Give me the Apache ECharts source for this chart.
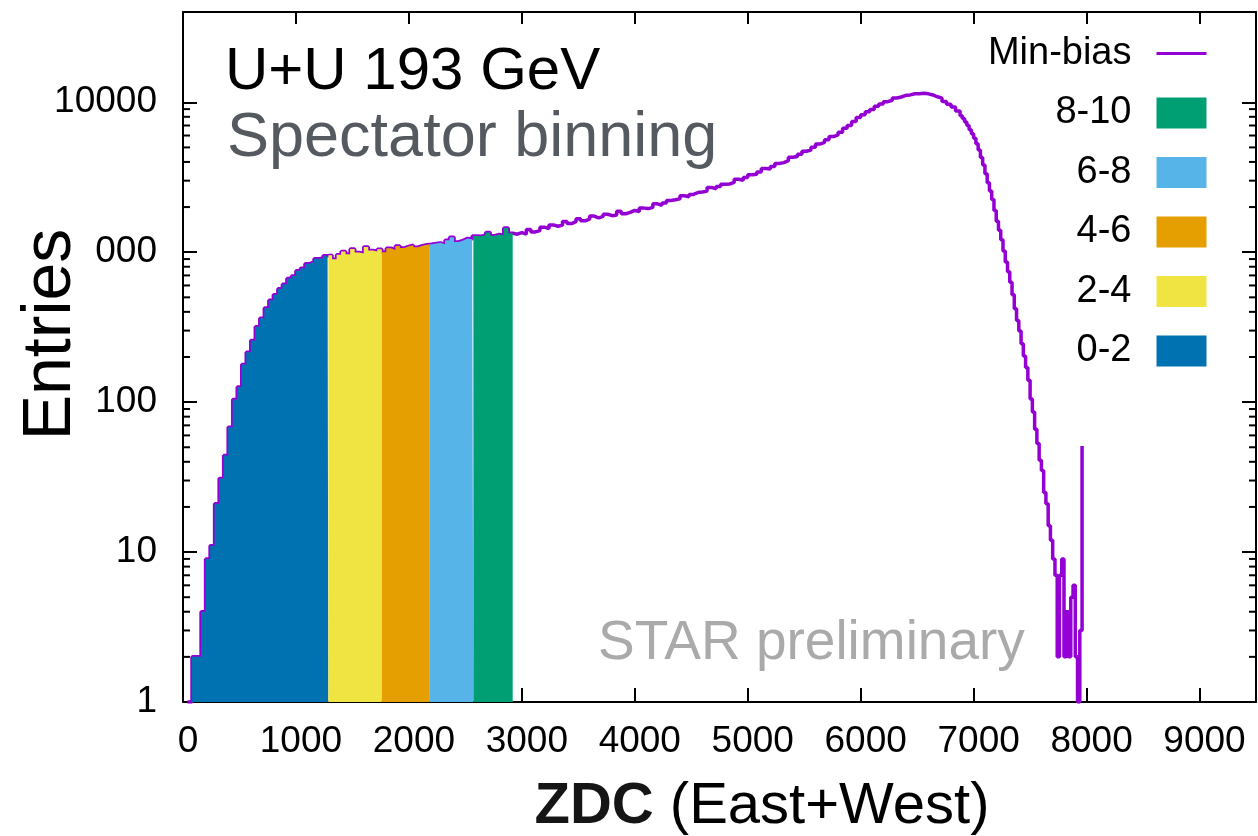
<!DOCTYPE html>
<html>
<head>
<meta charset="utf-8">
<title>ZDC spectator binning</title>
<script src="https://cdn.jsdelivr.net/npm/echarts@6/dist/echarts.min.js"></script>
<style>
  html, body { margin: 0; padding: 0; background: #ffffff; }
  #chart { width: 1258px; height: 836px; }
</style>
</head>
<body>
<div id="chart"></div>
<script>
// ZDC (East+West) histogram: left bin edge of each bin
const zdc = [
  40, 80, 120, 160, 200, 240, 280, 320, 360, 400,
  440, 480, 520, 560, 600, 640, 680, 720, 760, 800,
  840, 880, 920, 960, 1000, 1040, 1080, 1120, 1160, 1200,
  1240, 1280, 1320, 1360, 1400, 1440, 1480, 1520, 1560, 1600,
  1640, 1680, 1720, 1760, 1800, 1840, 1880, 1920, 1960, 2000,
  2040, 2080, 2120, 2160, 2200, 2240, 2280, 2320, 2360, 2400,
  2440, 2480, 2520, 2560, 2600, 2640, 2680, 2720, 2760, 2800,
  2840, 2880, 2920, 2960, 3000, 3040, 3080, 3120, 3160, 3200,
  3240, 3280, 3320, 3360, 3400, 3440, 3480, 3520, 3560, 3600,
  3640, 3680, 3720, 3760, 3800, 3840, 3880, 3920, 3960, 4000,
  4040, 4080, 4120, 4160, 4200, 4240, 4280, 4320, 4360, 4400,
  4440, 4480, 4520, 4560, 4600, 4640, 4680, 4720, 4760, 4800,
  4840, 4880, 4920, 4960, 5000, 5040, 5080, 5120, 5160, 5200,
  5240, 5280, 5320, 5360, 5400, 5440, 5480, 5520, 5560, 5600,
  5640, 5680, 5720, 5760, 5800, 5840, 5880, 5920, 5960, 6000,
  6040, 6080, 6120, 6160, 6200, 6240, 6280, 6320, 6360, 6400,
  6440, 6480, 6520, 6560, 6600, 6640, 6680, 6720, 6760, 6800,
  6840, 6880, 6900, 6920, 6940, 6960, 6980, 7000, 7020, 7040,
  7060, 7080, 7100, 7120, 7140, 7160, 7180, 7200, 7220, 7240,
  7260, 7280, 7300, 7320, 7340, 7360, 7380, 7400, 7420, 7440,
  7460, 7480,
  7500, 7520, 7540, 7560, 7580, 7600, 7620, 7640, 7660, 7680,
  7700, 7720, 7740, 7760, 7780, 7800, 7820, 7840, 7860, 7880,
  7900, 7920, 7940, 7960
];

// Min-bias entries per bin
const entries = [
  1, 2, 2, 4, 9, 11, 21, 31, 44, 68,
  104, 126, 178, 215, 258, 318, 362, 425, 478, 520,
  571, 612, 668, 694, 752, 781, 836, 862, 905, 912,
  948, 955, 898, 962, 1012, 968, 1052, 996, 981, 1082,
  1028, 1011, 1046, 998, 1063, 1036, 1102, 1068, 1094, 1113,
  1079, 1104, 1122, 1131, 1142, 1154, 1128, 1203, 1258, 1171,
  1199, 1236, 1218, 1281, 1276, 1302, 1351, 1288, 1314, 1297,
  1452, 1336, 1318, 1352, 1318, 1415, 1366, 1392, 1468, 1436,
  1521, 1489, 1515, 1604, 1552, 1597, 1672, 1618, 1660, 1741,
  1692, 1733, 1790, 1752, 1771, 1874, 1806, 1842, 1898, 1870,
  1968, 1954, 1992, 2101, 2058, 2132, 2214, 2236, 2268, 2379,
  2341, 2427, 2502, 2520, 2558, 2704, 2650, 2742, 2842, 2851,
  2920, 3069, 3021, 3148, 3289, 3312, 3431, 3610, 3589, 3730,
  3902, 3958, 4080, 4296, 4352, 4495, 4712, 4808, 5010, 5262,
  5398, 5630, 5905, 6052, 6301, 6712, 7005, 7450, 7912, 8260,
  8640, 8950, 9410, 9740, 10090, 10320, 10680, 10840, 11120, 11200,
  11390, 11410, 11500, 11380, 11190, 10880, 10650, 10130, 9710, 9310,
  8760, 8120, 7790, 7400, 6990, 6550, 6170, 5760, 5290, 4800,
  4290, 3810, 3340, 2900, 2560, 2250, 1900, 1610, 1400, 1210,
  1020, 860, 740, 630, 520, 420, 350, 298, 245, 203,
  170, 140,
  105, 86, 66, 53, 41, 35, 25, 21, 15, 12,
  9, 7, 2, 7, 9, 2, 4, 2, 5, 6,
  2, 1, 3, 51
];

// Spectator classes and their ZDC ranges
const classNames = ['0-2', '2-4', '4-6', '6-8', '8-10'];
const classEdges = [40, 1287, 1760, 2180, 2571, 2919];
const classColors = ['#0072b2', '#f0e442', '#e69f00', '#56b4e9', '#009e73'];

// Log-axis minor tick values
const yMinorTicks = [
  2, 3, 4, 5, 6, 7, 8, 9,
  20, 30, 40, 50, 60, 70, 80, 90,
  200, 300, 400, 500, 600, 700, 800, 900,
  2000, 3000, 4000, 5000, 6000, 7000, 8000, 9000
];

const FONT = '"Liberation Sans", Arial, Helvetica, sans-serif';
const INK = '#000000';
const PURPLE = '#9400d3';
const X_MIN = 0;
const X_MAX = 9500;

function binValueAt(x) {
  let v = entries[0];
  for (let i = 0; i < zdc.length; i++) {
    if (zdc[i] <= x) v = entries[i]; else break;
  }
  return v;
}

// Portion of the histogram between lo and hi, as step points
function classData(lo, hi) {
  const pts = [[lo, binValueAt(lo)]];
  zdc.forEach((x, i) => { if (x > lo && x < hi) pts.push([x, entries[i]]); });
  pts.push([hi, binValueAt(hi - 1e-6)]);
  return pts;
}

const minBiasData = zdc.map((x, i) => [x, entries[i]]);

const frameLine = { color: INK, width: 2 };
const tickLine = { color: INK, width: 2 };

const classSeries = classNames.map((name, k) => ({
  name: name,
  type: 'line',
  step: 'end',
  symbol: 'none',
  data: classData(classEdges[k], classEdges[k + 1]),
  xAxisIndex: 0,
  yAxisIndex: 0,
  color: classColors[k],
  itemStyle: { color: classColors[k] },
  lineStyle: { width: 0, opacity: 0 },
  areaStyle: { color: classColors[k], opacity: 1, origin: 'start' },
  z: 3,
  silent: true
}));

const logAxisBase = {
  type: 'log',
  logBase: 10,
  min: 1,
  max: 40000,
  splitLine: { show: false },
  minorTick: { show: false }
};

const chart = echarts.init(document.getElementById('chart'), null, { renderer: 'canvas' });

chart.setOption({
  animation: false,
  backgroundColor: '#ffffff',
  grid: { left: 183, right: 2, top: 12, bottom: 134, containLabel: false, outerBoundsMode: 'none' },
  legend: {
    orient: 'vertical',
    align: 'right',
    right: 50,
    top: 34.5,
    padding: 0,
    itemWidth: 50,
    itemHeight: 31,
    itemGap: 21.5,
    selectedMode: false,
    textStyle: {
      fontFamily: FONT,
      fontSize: 38,
      lineHeight: 38,
      color: INK,
      padding: [0, 20, 0, 0]
    },
    data: [
      {
        name: 'Min-bias',
        itemStyle: { opacity: 0, color: 'rgba(0,0,0,0)', borderColor: 'rgba(0,0,0,0)', borderWidth: 0 },
        lineStyle: { color: PURPLE, width: 3 }
      },
      { name: '8-10', icon: 'rect' },
      { name: '6-8', icon: 'rect' },
      { name: '4-6', icon: 'rect' },
      { name: '2-4', icon: 'rect' },
      { name: '0-2', icon: 'rect' }
    ]
  },
  xAxis: [
    {
      type: 'value',
      position: 'bottom',
      min: X_MIN,
      max: X_MAX,
      interval: 1000,
      name: '{z|ZDC} (East+West)',
      nameLocation: 'middle',
      nameGap: 76,
      nameTextStyle: {
        fontFamily: FONT,
        fontSize: 58,
        lineHeight: 58,
        color: INK,
        padding: [0, 0, 0, 85],
        rich: {
          z: { fontFamily: FONT, fontSize: 58, lineHeight: 58, fontWeight: 'bold', color: '#151515' }
        }
      },
      axisLine: { show: true, onZero: false, lineStyle: frameLine },
      axisTick: { show: true, inside: true, length: 14, lineStyle: tickLine },
      axisLabel: {
        show: true,
        fontFamily: FONT,
        fontSize: 37,
        lineHeight: 37,
        color: INK,
        margin: 21,
        padding: [0, 0, 0, 10],
        showMaxLabel: false,
        formatter: v => String(Math.round(v))
      },
      splitLine: { show: false }
    },
    {
      type: 'value',
      position: 'top',
      min: X_MIN,
      max: X_MAX,
      interval: 1000,
      axisLine: { show: true, onZero: false, lineStyle: frameLine },
      axisTick: { show: true, inside: true, length: 12, lineStyle: tickLine },
      axisLabel: { show: false },
      splitLine: { show: false }
    }
  ],
  yAxis: [
    Object.assign({}, logAxisBase, {
      position: 'left',
      axisLine: { show: true, onZero: false, lineStyle: frameLine },
      axisTick: { show: true, inside: true, length: 14, lineStyle: tickLine },
      axisLabel: {
        show: true,
        fontFamily: FONT,
        fontSize: 37,
        color: INK,
        margin: 26,
        showMaxLabel: false,
        formatter: v => String(Math.round(v))
      }
    }),
    Object.assign({}, logAxisBase, {
      position: 'right',
      axisLine: { show: true, onZero: false, lineStyle: frameLine },
      axisTick: { show: true, inside: true, length: 14, lineStyle: tickLine },
      axisLabel: { show: false }
    })
  ],
  series: [
    {
      name: 'Min-bias',
      type: 'line',
      step: 'end',
      symbol: 'none',
      data: minBiasData,
      xAxisIndex: 0,
      yAxisIndex: 0,
      color: PURPLE,
      itemStyle: { color: PURPLE },
      lineStyle: { color: PURPLE, width: 3.5 },
      z: 2,
      silent: true
    }
  ].concat(classSeries)
});

// Text overlays and minor log ticks (positions from the axis scales)
const xLeft = chart.convertToPixel({ xAxisIndex: 0 }, X_MIN);
const xRight = chart.convertToPixel({ xAxisIndex: 0 }, X_MAX);
const minorTickLen = 7;

const minorTickMarks = [];
yMinorTicks.forEach((v, i) => {
  const y = chart.convertToPixel({ yAxisIndex: 0 }, v);
  minorTickMarks.push({
    type: 'line', id: 'minor-left-' + i, z: 10, silent: true,
    shape: { x1: xLeft, y1: y, x2: xLeft + minorTickLen, y2: y },
    style: { stroke: INK, lineWidth: 2 }
  });
  minorTickMarks.push({
    type: 'line', id: 'minor-right-' + i, z: 10, silent: true,
    shape: { x1: xRight - minorTickLen, y1: y, x2: xRight, y2: y },
    style: { stroke: INK, lineWidth: 2 }
  });
});

chart.setOption({
  graphic: [
    {
      type: 'text', id: 'title', x: 225, y: 72, z: 100,
      style: { text: 'U+U 193 GeV', font: '60px ' + FONT, fill: INK, align: 'left', verticalAlign: 'middle' }
    },
    {
      type: 'text', id: 'subtitle', x: 227, y: 139, z: 100,
      style: { text: 'Spectator binning', font: '63px ' + FONT, fill: '#555a60', align: 'left', verticalAlign: 'middle' }
    },
    {
      type: 'text', id: 'watermark', x: 598, y: 644, z: 100,
      style: { text: 'STAR preliminary', font: '55px ' + FONT, fill: '#aaaaaa', align: 'left', verticalAlign: 'middle' }
    },
    {
      type: 'rect', id: 'ytitle-bg', z: 100,
      shape: { x: 0, y: 225, width: 94, height: 220 },
      style: { fill: '#ffffff' }
    },
    {
      type: 'text', id: 'ytitle', x: 51, y: 334.5, rotation: Math.PI / 2, z: 101,
      style: { text: 'Entries', font: '68px ' + FONT, fill: INK, align: 'center', verticalAlign: 'middle' }
    }
  ].concat(minorTickMarks)
});
</script>
</body>
</html>
